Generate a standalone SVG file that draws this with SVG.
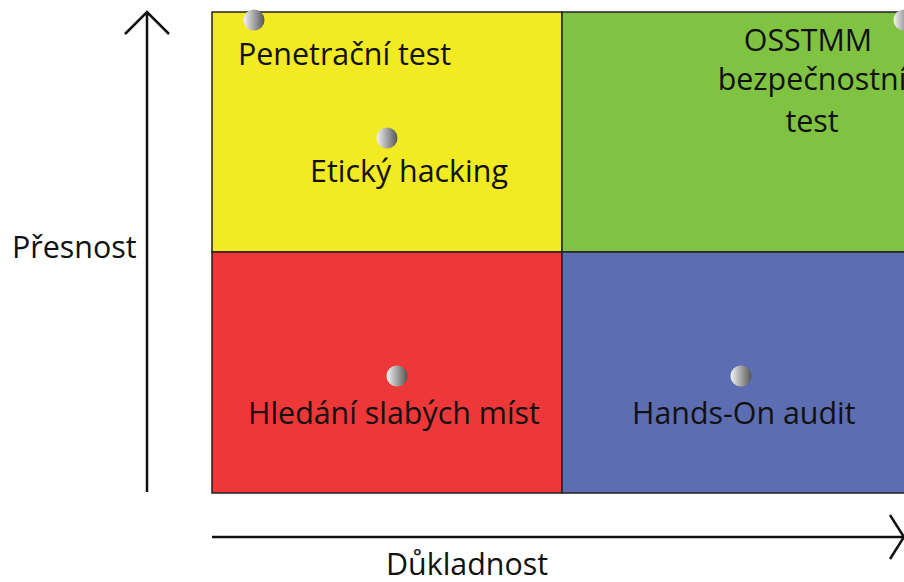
<svg xmlns="http://www.w3.org/2000/svg" width="904" height="582" viewBox="0 0 904 582">
<defs>
<linearGradient id="ball" x1="0" y1="0" x2="1" y2="0">
<stop offset="0" stop-color="#f4f4f4"/>
<stop offset="1" stop-color="#555"/>
</linearGradient>
</defs>
<style>
.q{stroke:#222;stroke-width:1.5}
.t{font-family:"Open Sans","Noto Sans",sans-serif;font-size:30.4px;fill:#111}
.m{text-anchor:middle}
.ax{stroke:#111;stroke-width:2.5;fill:none}
.b{fill:url(#ball)}
</style>
<g id="q-yellow"><rect class="q" x="212" y="12" width="350" height="240" fill="#F2EA22"/></g>
<g id="q-green"><rect class="q" x="562" y="12" width="350" height="240" fill="#80C342"/></g>
<g id="q-red"><rect class="q" x="212" y="252" width="350" height="241" fill="#EE3738"/></g>
<g id="q-blue"><rect class="q" x="562" y="252" width="350" height="241" fill="#5D6DB1"/></g>
<g id="n-pen"><circle class="b" cx="254" cy="20" r="10.5"/><text class="t" x="238" y="65">Penetrační test</text></g>
<g id="n-eth"><circle class="b" cx="387" cy="138" r="10.5"/><text class="t" x="310" y="182">Etický hacking</text></g>
<g id="n-oss"><circle class="b" cx="904" cy="20" r="10.5"/><text class="t m" x="808" y="51">OSSTMM</text><text class="t m" x="812" y="90">bezpečnostní</text><text class="t m" x="812" y="132">test</text></g>
<g id="n-hled"><circle class="b" cx="397" cy="376" r="10.5"/><text class="t" x="248" y="424">Hledání slabých míst</text></g>
<g id="n-hands"><circle class="b" cx="741" cy="376" r="10.5"/><text class="t" x="632" y="424">Hands-On audit</text></g>
<g id="connectors">
<path class="ax" d="M147 492V12M125 34L147 12L169 34"/>
<path class="ax" d="M212 537H904M890 515L904 537L890 559"/>
</g>
<text class="t" x="12" y="258">Přesnost</text>
<text class="t" x="386" y="575">Důkladnost</text>
</svg>
